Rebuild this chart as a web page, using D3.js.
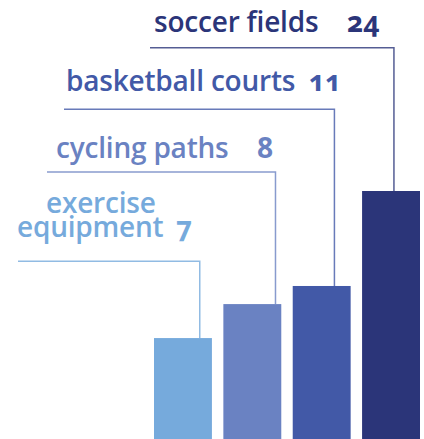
<!DOCTYPE html>
<html>
<head>
<meta charset="utf-8">
<script src="https://cdn.jsdelivr.net/npm/d3@7"></script>
<style>
  html, body { margin: 0; padding: 0; background: #ffffff; }
  svg { display: block; }
  text { font-family: "Open Sans", "Noto Sans", sans-serif; }
</style>
</head>
<body>
<svg id="chart" width="424" height="439"></svg>
<script>
// ---- data ----
const categories = ["exercise equipment", "cycling paths", "basketball courts", "soccer fields"];
const labelLines = [["exercise", "equipment"], ["cycling paths"], ["basketball courts"], ["soccer fields"]];
const values = [7, 8, 11, 24];
// relative bar heights as drawn (percent of tallest bar)
const barHeights = [40.7, 54.4, 61.7, 100];
const colors = ["#76aadc", "#6a82c2", "#4259a7", "#2b3579"];

// ---- layout ----
const W = 424, H = 439;
const layout = {
  barLeft: 154, barRight: 420, barTop: 191, barBottom: 439,
  leaderFrac: [0.79, 0.9, 0.72, 0.55],
  lineY: [261.3, 172, 109.3, 47.7],
  lineX0: [18, 47, 64, 150],
  textX: [[46, 17], [56], [66], [154]],
  textY: [[213, 237], [158], [91], [32]],
  numX: [176, 257, 309, 347]
};

const svg = d3.select("#chart");

const x = d3.scaleBand()
  .domain(categories)
  .range([layout.barLeft, layout.barRight])
  .paddingInner(0.165)
  .paddingOuter(0);

const y = d3.scaleLinear()
  .domain([0, 100])
  .range([layout.barBottom, layout.barTop]);

const data = categories.map((c, i) => ({ c, i, v: values[i], h: barHeights[i], color: colors[i] }));

// bars
svg.append("g").selectAll("rect").data(data).join("rect")
  .attr("x", d => x(d.c))
  .attr("y", d => y(d.h))
  .attr("width", x.bandwidth())
  .attr("height", d => y(0) - y(d.h))
  .attr("fill", d => d.color);

// leader lines
svg.append("g").selectAll("path").data(data).join("path")
  .attr("d", d => {
    const lx = x(d.c) + x.bandwidth() * layout.leaderFrac[d.i];
    const ly = layout.lineY[d.i];
    return `M${layout.lineX0[d.i]},${ly}H${lx}V${y(d.h)}`;
  })
  .attr("fill", "none")
  .attr("stroke", d => d.color)
  .attr("stroke-opacity", 0.8)
  .attr("stroke-width", 1.5);

// labels
const lg = svg.append("g");
data.forEach(d => {
  labelLines[d.i].forEach((line, k) => {
    lg.append("text")
      .attr("x", layout.textX[d.i][k])
      .attr("y", layout.textY[d.i][k])
      .attr("fill", d.color)
      .attr("font-size", 28)
      .attr("font-weight", 600)
      .attr("letter-spacing", -0.2)
      .text(line);
  });
  const last = labelLines[d.i].length - 1;
  lg.append("text")
    .attr("x", layout.numX[d.i])
    .attr("y", layout.textY[d.i][last])
    .attr("fill", d.color)
    .attr("font-size", 28)
    .attr("font-weight", 700)
    .style("font-variant-numeric", "oldstyle-nums")
    .text(d.v);
});
</script>
</body>
</html>
